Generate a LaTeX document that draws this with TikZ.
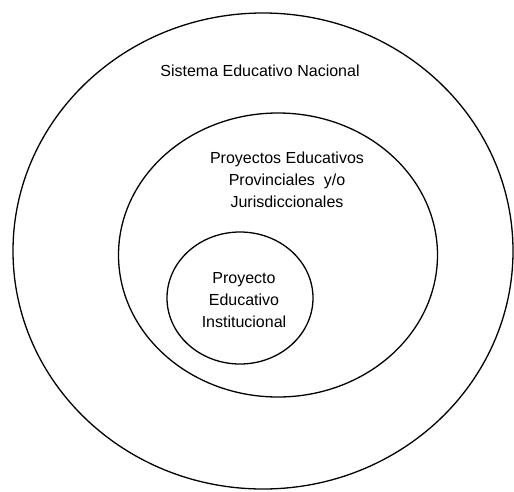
\documentclass[tikz,border=0pt]{standalone}
\usepackage{fontspec}
\setmainfont{Liberation Sans}
\usetikzlibrary{shapes.geometric}

\begin{document}
\begin{tikzpicture}
    [x=1pt,y=-1pt,
      ring/.style={ellipse,draw,line width=1.3pt,inner sep=0pt},
      lbl/.style={align=center,font=\fontsize{16}{22}\selectfont,inner sep=0pt}]

    \useasboundingbox (0,0) rectangle (514,491);

    \node [ring,minimum width=500pt,minimum height=476pt] (nac) at (263,251) {};
    \node [ring,minimum width=319pt,minimum height=284pt] (prov) at (278,255) {};
    \node [ring,minimum width=146pt,minimum height=132pt] (inst) at (240,298) {};

    \node [lbl] (nactxt) at (260,71) {Sistema Educativo Nacional};
    \node [lbl] (provtxt) at (287,180) {Proyectos Educativos\\Provinciales\ \ y/o\\Jurisdiccionales};
    \node [lbl] (insttxt) at (244,300) {Proyecto\\Educativo\\Institucional};
  \end{tikzpicture}
\end{document}
